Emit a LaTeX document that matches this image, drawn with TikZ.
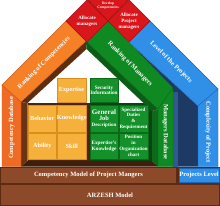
\documentclass[tikz,border=0pt]{standalone}
\usepackage{fontspec}
\setmainfont{Liberation Serif}
\definecolor{orng}{HTML}{F58025}
\definecolor{orngP}{HTML}{EF6B23}
\definecolor{orngD}{HTML}{C8561A}
\definecolor{brn}{HTML}{8C4A2A}
\definecolor{brnE}{HTML}{5A2A12}
\definecolor{brnD}{HTML}{5E2C0F}
\definecolor{brnF}{HTML}{6A3314}
\definecolor{brnB}{HTML}{4B240E}
\definecolor{flr}{HTML}{3F1E0B}
\definecolor{redd}{HTML}{D8161C}
\definecolor{redE}{HTML}{9B1114}
\definecolor{grn}{HTML}{14912A}
\definecolor{grnB}{HTML}{0F8A22}
\definecolor{grnE}{HTML}{0B6A18}
\definecolor{grnU}{HTML}{0B5C16}
\definecolor{grnF}{HTML}{0C6A1A}
\definecolor{grnK}{HTML}{0A4413}
\definecolor{blu}{HTML}{3090E8}
\definecolor{bluE}{HTML}{1D66B5}
\definecolor{bluD}{HTML}{1C3A63}
\definecolor{bluS}{HTML}{2E5A8E}
\definecolor{yel}{HTML}{F6B13D}
\definecolor{yelE}{HTML}{D98E1E}
\tikzset{
  lbl/.style={text=white, font=\bfseries\fontsize{6.5}{7}\selectfont, inner sep=0pt, align=center},
  ylbl/.style={text=white, font=\bfseries\fontsize{6.2}{7}\selectfont, inner sep=0pt, align=center},
  sml/.style={text=white, font=\bfseries\fontsize{5.2}{5.9}\selectfont, inner sep=0pt, align=center},
  rlbl/.style={text=white, font=\bfseries\fontsize{5}{6}\selectfont, inner sep=0pt, align=center},
  ybox/.style={fill=yel, draw=yelE, line width=0.5pt, ylbl},
  gbox/.style={fill=grn, draw=grnE, line width=0.5pt, sml},
  bar/.style={fill=brn, draw=brnE, line width=0.6pt, lbl},
  face/.style={line width=0.4pt},
}
\begin{document}
\begin{tikzpicture}[x=1pt,y=-1pt]
\useasboundingbox (0,0) rectangle (220,206);
\fill[white] (0,0) rectangle (220,206);
% back frames
\fill[brnB] (27.5,103) rectangle (88.5,161.5);
\fill[grnK] (88.5,103) rectangle (152,161.5);
% inner faces
\fill[brnD] (86,41) -- (21,102) -- (27.5,103) -- (86.5,49) -- cycle;
\fill[brnF] (21,102) -- (27.5,103) -- (27.5,161) -- (21,166.5) -- cycle;
\fill[grnU] (86,41) -- (158,109) -- (152,111) -- (86.5,49) -- cycle;
\fill[grnF] (158,109) -- (152,111) -- (152,161) -- (158,166.5) -- cycle;
\fill[flr] (21,166.5) -- (27.5,161) -- (152,161) -- (158,166.5) -- cycle;
% dark blue region
\fill[bluD] (129,42.5) -- (198,106) -- (198,166.5) -- (173,166.5) -- (173,88) -- cycle;
\fill[bluS] (173,92) rectangle (177.5,166.5);
% bands and pillars
\filldraw[fill=orng, draw=orngD, face] (66,21) -- (2,85) -- (21,102) -- (86,41) -- cycle;
\filldraw[fill=orngP, draw=orngD, face] (2,85) -- (21,102) -- (21,166.5) -- (2,166.5) -- cycle;
\filldraw[fill=grnB, draw=grnE, face] (108,21) -- (173,88) -- (158,109) -- (86,41) -- cycle;
\filldraw[fill=grnB, draw=grnE, face] (173,88) -- (173,166.5) -- (158,166.5) -- (158,109) -- cycle;
\filldraw[fill=blu, draw=bluE, face] (129,42) -- (150,21) -- (218,89) -- (198,106) -- cycle;
\filldraw[fill=blu, draw=bluE, face] (198,106) -- (218,89) -- (218,166.5) -- (198,166.5) -- cycle;
% diamonds
\filldraw[fill=redd, draw=redE, line width=0.6pt] (87,-1) -- (108,21) -- (129,-1) -- cycle;
\filldraw[fill=redd, draw=redE, line width=0.6pt] (66,21) -- (87,0) -- (108,21) -- (87,42) -- cycle;
\filldraw[fill=redd, draw=redE, line width=0.6pt] (108,21) -- (129,0) -- (150,21) -- (129,42) -- cycle;
% boxes
\node[ybox, minimum width=29pt, minimum height=24.5pt] (expt) at (71.5,90.25) {Expertise};
\node[ybox, minimum width=28.5pt, minimum height=27pt] (behv) at (42.25,118.5) {Behavior};
\node[ybox, minimum width=28.5pt, minimum height=27pt] (know) at (71.75,118.5) {Knowledge};
\node[ybox, minimum width=28.5pt, minimum height=26pt] (abil) at (42.25,146) {Ability};
\node[ybox, minimum width=28.5pt, minimum height=26pt] (skil) at (71.75,146) {Skill};
\node[gbox, minimum width=28pt, minimum height=24.5pt] (secu) at (104,90.25) {Security\\Information};
\node[gbox, minimum width=28pt, minimum height=27pt] (genj) at (104,118.5) {{\fontsize{7}{7.5}\selectfont General}\\{\fontsize{6.4}{7}\selectfont Job}\\{\fontsize{5}{5.5}\selectfont Description}};
\node[gbox, minimum width=29pt, minimum height=27pt, font=\bfseries\fontsize{5}{5.6}\selectfont] (spec) at (133.5,118.5) {Specialized\\Duties\\\&\\Requirement};
\node[gbox, minimum width=28pt, minimum height=26pt] (expk) at (104,146) {Expertise's\\Knowledge};
\node[gbox, minimum width=29pt, minimum height=26pt, font=\bfseries\fontsize{5}{6}\selectfont] (posi) at (133.5,146) {Position\\in\\Organization\\chart};
% bars
\fill[brnE] (0,166.5) rectangle (220,206);
\node[bar, minimum width=219pt, minimum height=21.5pt] (arz) at (110,194.9) {ARZESH Model};
\node[bar, minimum width=176pt, minimum height=16pt] (cmp) at (88.5,175.2) {Competency Model of Project Mangers};
\node[fill=blu, draw=bluE, line width=0.6pt, lbl, minimum width=40pt, minimum height=14pt] (plv) at (199,175) {Projects Level};
% band and pillar labels
\node[lbl, rotate=45] (rkc) at (44,63) {Ranking of Competencies};
\node[lbl, rotate=-45] (rkm) at (130,64) {Ranking of Managers};
\node[lbl, rotate=-45] (lvp) at (171,62) {Level of the Projects};
\node[lbl, rotate=90] (cdb) at (11.5,128) {Competency Database};
\node[lbl, rotate=-90] (mdb) at (165.5,132) {Managers Database};
\node[lbl, rotate=-90] (cxp) at (208,132) {Complexity of Project};
\node[rlbl] (alm) at (87,21) {Allocate\\managers};
\node[rlbl] (apm) at (129,21) {Allocate\\Project\\managers};
\node[text=white, font=\bfseries\fontsize{3.6}{4.2}\selectfont, inner sep=0pt, align=center] (dvc) at (108,5.5) {Develop\\Competencies};
\end{tikzpicture}
\end{document}
